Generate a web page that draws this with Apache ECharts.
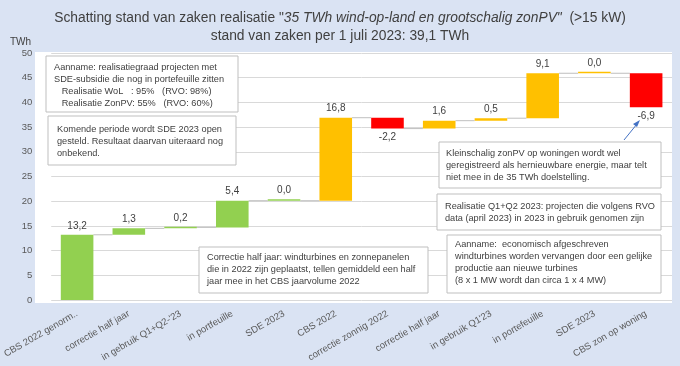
<!DOCTYPE html>
<html><head><meta charset="utf-8">
<script src="https://cdn.jsdelivr.net/npm/echarts@6/dist/echarts.min.js"></script>
<style>html,body{margin:0;padding:0;background:#dae3f3}#c{width:680px;height:366px}</style>
</head><body><div id="c"></div>
<script>
const categories = ['CBS 2022 genorm..','correctie half jaar',"in gebruik Q1+Q2-'23",'in portfeuille','SDE 2023','CBS 2022','correctie zonnig 2022','correctie half jaar',"in gebruik Q1'23",'in portefeuille','SDE 2023','CBS zon op woning'];
const deltas = [13.2, 1.3, 0.2, 5.4, 0.0, 16.8, -2.2, 1.6, 0.5, 9.1, 0.0, -6.9];
const colorKeys = ['wind','wind','wind','wind','wind','zon','neg','zon','zon','zon','zon','neg'];
const yTicks = {min:0, max:50, interval:5};

const palette = {wind:'#92d050', zon:'#ffc000', neg:'#ff0000'};
const FONT = 'Liberation Sans';

let cum = 0;
const baseData = [], valData = [], connData = [];
deltas.forEach((d, i) => {
  const start = cum, end = cum + d;
  baseData.push(Math.min(start, end));
  valData.push({
    value: Math.abs(d),
    itemStyle: {color: palette[colorKeys[i]]},
    label: {position: d < 0 ? 'bottom' : 'top'}
  });
  cum = end;
  if (i < deltas.length - 1) connData.push([i, cum]);
});
const BAR_FRAC = 0.63;

function box(x, y, w, h, text, tx, ty) {
  return {type:'group', children:[
    {type:'rect', shape:{x:x, y:y, width:w, height:h}, style:{fill:'#fff', stroke:'#bfbfbf', lineWidth:1}, z:10},
    {type:'text', x:tx, y:ty, style:{text:text, fill:'#404040', fontSize:9.2, fontFamily:FONT, lineHeight:12, textVerticalAlign:'top'}, z:11}
  ]};
}

const chart = echarts.init(document.getElementById('c'), null, {renderer:'canvas'});
chart.setOption({
  backgroundColor:'#dae3f3',
  animation:false,
  title:{
    left:'center', top:4,
    text:'{a|Schatting stand van zaken realisatie "}{b|35 TWh wind-op-land en grootschalig zonPV"}{a|  (>15 kW)}\n{a|stand van zaken per 1 juli 2023: 39,1 TWh}',
    textStyle:{fontWeight:'normal', rich:{
      a:{fontSize:13.8, fontFamily:FONT, color:'#404040', lineHeight:18, fontWeight:'normal'},
      b:{fontSize:13.8, fontFamily:FONT, color:'#404040', fontStyle:'italic', lineHeight:18, fontWeight:'normal'}
    }}
  },
  grid:{left:45, right:8, top:53, bottom:66},
  xAxis:{
    type:'category', data:categories,
    axisLine:{show:false}, axisTick:{show:false},
    axisLabel:{rotate:30, interval:0, fontSize:9.5, fontFamily:FONT, color:'#595959', margin:13}
  },
  yAxis:{
    type:'value', min:yTicks.min, max:yTicks.max, interval:yTicks.interval,
    axisLabel:{fontSize:9.5, fontFamily:FONT, color:'#595959', margin:19},
    splitLine:{lineStyle:{color:'#d9d9d9', width:1}}
  },
  graphic:[
    {type:'rect', shape:{x:35, y:52, width:637, height:251}, style:{fill:'#ffffff'}, z:-10, silent:true},
    {type:'text', x:10, y:37, style:{text:'TWh', fill:'#404040', fontSize:10, fontFamily:FONT}},
    box(46, 56, 192, 56, 'Aanname: realisatiegraad projecten met\nSDE-subsidie die nog in portefeuille zitten\n   Realisatie WoL   : 95%   (RVO: 98%)\n   Realisatie ZonPV: 55%   (RVO: 60%)', 54, 61),
    box(48, 116, 188, 49, 'Komende periode wordt SDE 2023 open\ngesteld. Resultaat daarvan uiteraard nog\nonbekend.', 57, 123),
    box(199, 247, 229, 46, 'Correctie half jaar: windturbines en zonnepanelen\ndie in 2022 zijn geplaatst, tellen gemiddeld een half\njaar mee in het CBS jaarvolume 2022', 207, 251),
    box(439, 142, 222, 46, 'Kleinschalig zonPV op woningen wordt wel\ngeregistreerd als hernieuwbare energie, maar telt\nniet mee in de 35 TWh doelstelling.', 446, 147),
    box(437, 194, 224, 36, 'Realisatie Q1+Q2 2023: projecten die volgens RVO\ndata (april 2023) in 2023 in gebruik genomen zijn', 445, 200),
    box(447, 235, 214, 58, 'Aanname:  economisch afgeschreven\nwindturbines worden vervangen door een gelijke\nproductie aan nieuwe turbines\n(8 x 1 MW wordt dan circa 1 x 4 MW)', 455, 238),
    {type:'line', shape:{x1:624, y1:140, x2:637, y2:124}, style:{stroke:'#4472c4', lineWidth:1}, z:12},
    {type:'polygon', shape:{points:[[640,120],[633,124],[637,127]]}, style:{fill:'#4472c4'}, z:12}
  ],
  series:[
    {type:'bar', stack:'w', data:baseData, itemStyle:{color:'transparent'}, barWidth:(BAR_FRAC*100)+'%', silent:true},
    {type:'bar', stack:'w', data:valData, barWidth:(BAR_FRAC*100)+'%', barMinHeight:1.5,
      label:{show:true, fontSize:10, fontFamily:FONT, color:'#404040', distance:4,
        formatter:p => deltas[p.dataIndex].toFixed(1).replace('.', ',')}},
    {type:'custom', data:connData, z:1, silent:true,
      renderItem:(params, api) => {
        const i = api.value(0), lvl = api.value(1);
        const p1 = api.coord([i, lvl]), p2 = api.coord([i + 1, lvl]);
        const hw = api.size([1, 0])[0] * BAR_FRAC / 2;
        return {type:'line', shape:{x1:p1[0] + hw, y1:p1[1], x2:p2[0] - hw, y2:p2[1]}, style:{stroke:'#bfbfbf', lineWidth:1}};
      }}
  ]
});
</script></body></html>
